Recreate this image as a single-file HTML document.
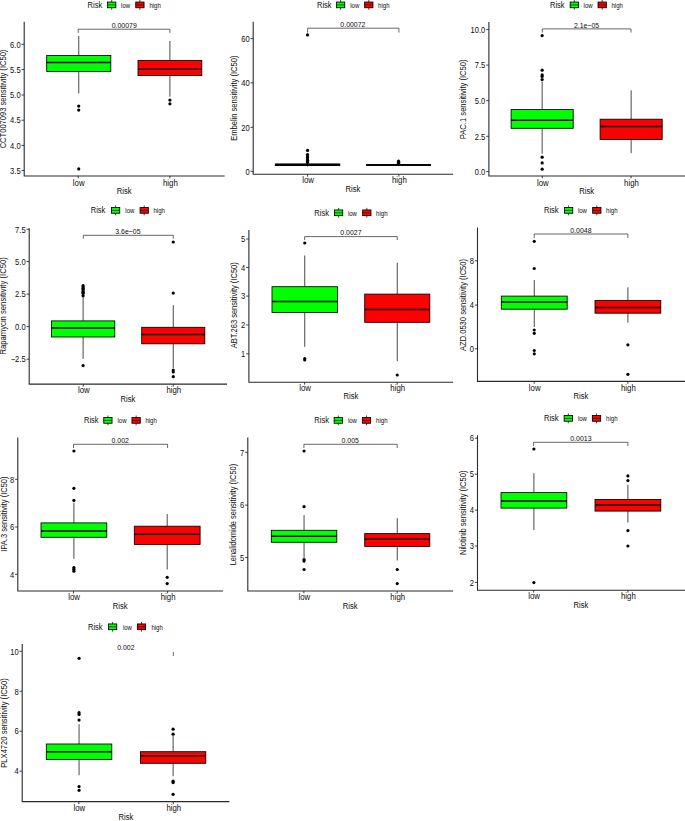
<!DOCTYPE html>
<html lang="en"><head><meta charset="utf-8"><title>Drug sensitivity box plots</title>
<style>
html,body{margin:0;padding:0;background:#fff}
svg{display:block}
text{font-family:"Liberation Sans", Arial, sans-serif;fill:#0d0d0d}
.w{stroke:#1a1a1a;stroke-width:.8;fill:none}
.b{stroke:#000;stroke-width:.85}
.m{stroke:#000;stroke-width:1.5}
.km{stroke:#000;stroke-width:.6}
.o{fill:#000}
.ax{stroke:#2a2a2a;stroke-width:1.1;fill:none}
.tk{stroke:#222;stroke-width:.85}
.br{stroke:#262626;stroke-width:.7;fill:none}
</style></head><body>
<svg width="685" height="821" viewBox="0 0 685 821">
<rect width="685" height="821" fill="#fff"/>
<g>
<text transform="translate(87.6 7.75) scale(0.875 1)" font-size="8.6">Risk</text>
<line x1="111.7" y1="0" x2="111.7" y2="9.8" class="w"/>
<rect x="107.55" y="2.05" width="8.3" height="5.7" fill="#00ff00" class="b"/>
<line x1="107.55" y1="4.9" x2="115.85" y2="4.9" class="km" stroke-width="0.6"/>
<text transform="translate(121.1 7.6) scale(0.89 1)" font-size="6.8">low</text>
<line x1="139.9" y1="0" x2="139.9" y2="9.8" class="w"/>
<rect x="135.75" y="2.05" width="8.3" height="5.7" fill="#ff0000" class="b"/>
<line x1="135.75" y1="4.9" x2="144.05" y2="4.9" class="km" stroke-width="0.6"/>
<text transform="translate(149.4 7.6) scale(0.89 1)" font-size="6.8">high</text>
<line x1="78.75" y1="35.9" x2="78.75" y2="55.4" class="w" stroke-width="0.7"/>
<line x1="78.75" y1="71.5" x2="78.75" y2="93.4" class="w" stroke-width="0.7"/>
<rect x="46.7" y="55.4" width="64.1" height="16.1" fill="#00ff00" class="b" stroke-width="0.85"/>
<line x1="46.7" y1="62.5" x2="110.8" y2="62.5" class="m"/>
<circle cx="78.75" cy="106.1" r="1.6" class="o"/>
<circle cx="78.75" cy="110.1" r="1.6" class="o"/>
<circle cx="78.75" cy="168.9" r="1.6" class="o"/>
<line x1="169.9" y1="41" x2="169.9" y2="60.4" class="w" stroke-width="1.2"/>
<line x1="169.9" y1="75.6" x2="169.9" y2="96.7" class="w" stroke-width="1.2"/>
<rect x="138" y="60.4" width="63.8" height="15.2" fill="#ff0000" class="b" stroke-width="0.85"/>
<line x1="138" y1="69.2" x2="201.8" y2="69.2" class="m"/>
<circle cx="169.9" cy="100.1" r="1.6" class="o"/>
<circle cx="169.9" cy="103.8" r="1.6" class="o"/>
<path d="M24.2 21.8V175.95H224.7" class="ax"/>
<line x1="21.5" y1="44.3" x2="24.2" y2="44.3" class="tk"/>
<text transform="translate(20.6 47.5) scale(0.86 1)" font-size="8.8" text-anchor="end">6.0</text>
<line x1="21.5" y1="69.5" x2="24.2" y2="69.5" class="tk"/>
<text transform="translate(20.6 72.7) scale(0.86 1)" font-size="8.8" text-anchor="end">5.5</text>
<line x1="21.5" y1="95" x2="24.2" y2="95" class="tk"/>
<text transform="translate(20.6 98.2) scale(0.86 1)" font-size="8.8" text-anchor="end">5.0</text>
<line x1="21.5" y1="120.2" x2="24.2" y2="120.2" class="tk"/>
<text transform="translate(20.6 123.4) scale(0.86 1)" font-size="8.8" text-anchor="end">4.5</text>
<line x1="21.5" y1="145.4" x2="24.2" y2="145.4" class="tk"/>
<text transform="translate(20.6 148.6) scale(0.86 1)" font-size="8.8" text-anchor="end">4.0</text>
<line x1="21.5" y1="170.6" x2="24.2" y2="170.6" class="tk"/>
<text transform="translate(20.6 173.8) scale(0.86 1)" font-size="8.8" text-anchor="end">3.5</text>
<line x1="78.2" y1="175.95" x2="78.2" y2="178.35" class="tk"/>
<text transform="translate(78.7 185.7) scale(0.93 1)" font-size="8.4" text-anchor="middle">low</text>
<line x1="169.9" y1="175.95" x2="169.9" y2="178.35" class="tk"/>
<text transform="translate(170.4 185.7) scale(0.93 1)" font-size="8.4" text-anchor="middle">high</text>
<text transform="translate(124.2 194.2) scale(0.85 1)" font-size="9.0" text-anchor="middle">Risk</text>
<text transform="translate(6.4 99) rotate(-90) scale(0.924 1)" font-size="8.2" text-anchor="middle">CCT007093 sensitivity (IC50)</text>
<path d="M78.2 32.9V29.2H169.9V32.9" class="br"/>
<text transform="translate(124.2 28.05) scale(0.89 1)" font-size="7.8" text-anchor="middle">0.00079</text>
</g>
<g>
<text transform="translate(317 7.75) scale(0.875 1)" font-size="8.6">Risk</text>
<line x1="340.6" y1="0" x2="340.6" y2="9.8" class="w"/>
<rect x="336.45" y="2.05" width="8.3" height="5.7" fill="#00ff00" class="b"/>
<line x1="336.45" y1="4.9" x2="344.75" y2="4.9" class="km" stroke-width="0.6"/>
<text transform="translate(350.2 7.6) scale(0.89 1)" font-size="6.8">low</text>
<line x1="368.8" y1="0" x2="368.8" y2="9.8" class="w"/>
<rect x="364.65" y="2.05" width="8.3" height="5.7" fill="#ff0000" class="b"/>
<line x1="364.65" y1="4.9" x2="372.95" y2="4.9" class="km" stroke-width="0.6"/>
<text transform="translate(378.1 7.6) scale(0.89 1)" font-size="6.8">high</text>
<line x1="307.55" y1="163" x2="307.55" y2="163.9" class="w" stroke-width="0.8"/>
<line x1="307.55" y1="165.6" x2="307.55" y2="166.5" class="w" stroke-width="0.8"/>
<rect x="275.3" y="163.9" width="64.5" height="1.7" fill="#000" class="b" stroke-width="0.85"/>
<line x1="275.3" y1="164.7" x2="339.8" y2="164.7" class="m"/>
<circle cx="307.55" cy="34.9" r="1.6" class="o"/>
<circle cx="307.55" cy="150.4" r="1.6" class="o"/>
<circle cx="307.55" cy="154.5" r="1.6" class="o"/>
<circle cx="307.55" cy="156" r="1.6" class="o"/>
<circle cx="307.55" cy="157.5" r="1.6" class="o"/>
<circle cx="307.55" cy="159" r="1.6" class="o"/>
<circle cx="307.55" cy="160.3" r="1.6" class="o"/>
<circle cx="307.55" cy="161.5" r="1.6" class="o"/>
<circle cx="307.55" cy="162.5" r="1.6" class="o"/>
<line x1="398.55" y1="163.8" x2="398.55" y2="164.6" class="w" stroke-width="0.8"/>
<line x1="398.55" y1="165.4" x2="398.55" y2="166.2" class="w" stroke-width="0.8"/>
<rect x="366.5" y="164.6" width="64.1" height="0.8" fill="#000" class="b" stroke-width="0.85"/>
<line x1="366.5" y1="165" x2="430.6" y2="165" class="m"/>
<circle cx="398.55" cy="161.2" r="1.6" class="o"/>
<circle cx="398.55" cy="162.3" r="1.6" class="o"/>
<circle cx="398.55" cy="163.3" r="1.6" class="o"/>
<path d="M253.2 21.8V174.25H453.1" class="ax"/>
<line x1="250.5" y1="38.6" x2="253.2" y2="38.6" class="tk"/>
<text transform="translate(249.6 41.8) scale(0.86 1)" font-size="8.8" text-anchor="end">60</text>
<line x1="250.5" y1="82.9" x2="253.2" y2="82.9" class="tk"/>
<text transform="translate(249.6 86.1) scale(0.86 1)" font-size="8.8" text-anchor="end">40</text>
<line x1="250.5" y1="127.3" x2="253.2" y2="127.3" class="tk"/>
<text transform="translate(249.6 130.5) scale(0.86 1)" font-size="8.8" text-anchor="end">20</text>
<line x1="250.5" y1="171.3" x2="253.2" y2="171.3" class="tk"/>
<text transform="translate(249.6 174.5) scale(0.86 1)" font-size="8.8" text-anchor="end">0</text>
<line x1="307.6" y1="174.25" x2="307.6" y2="176.65" class="tk"/>
<text transform="translate(308.1 183.4) scale(0.93 1)" font-size="8.4" text-anchor="middle">low</text>
<line x1="398.9" y1="174.25" x2="398.9" y2="176.65" class="tk"/>
<text transform="translate(399.4 183.4) scale(0.93 1)" font-size="8.4" text-anchor="middle">high</text>
<text transform="translate(352.9 191.9) scale(0.85 1)" font-size="9.0" text-anchor="middle">Risk</text>
<text transform="translate(237.3 98.2) rotate(-90) scale(0.925 1)" font-size="8.2" text-anchor="middle">Embelin sensitivity (IC50)</text>
<path d="M307.6 32.6V28.2H398.9V32.6" class="br"/>
<text transform="translate(352.9 27.35) scale(0.89 1)" font-size="7.8" text-anchor="middle">0.00072</text>
</g>
<g>
<text transform="translate(550 7.75) scale(0.875 1)" font-size="8.6">Risk</text>
<line x1="574.3" y1="0" x2="574.3" y2="9.8" class="w"/>
<rect x="570.15" y="2.05" width="8.3" height="5.7" fill="#00ff00" class="b"/>
<line x1="570.15" y1="4.9" x2="578.45" y2="4.9" class="km" stroke-width="0.6"/>
<text transform="translate(583.6 7.6) scale(0.89 1)" font-size="6.8">low</text>
<line x1="602.2" y1="0" x2="602.2" y2="9.8" class="w"/>
<rect x="598.05" y="2.05" width="8.3" height="5.7" fill="#ff0000" class="b"/>
<line x1="598.05" y1="4.9" x2="606.35" y2="4.9" class="km" stroke-width="0.6"/>
<text transform="translate(611.5 7.6) scale(0.89 1)" font-size="6.8">high</text>
<line x1="542.15" y1="81.6" x2="542.15" y2="109.5" class="w" stroke-width="0.7"/>
<line x1="542.15" y1="128.3" x2="542.15" y2="153.8" class="w" stroke-width="0.7"/>
<rect x="511.1" y="109.5" width="62.1" height="18.8" fill="#00ff00" class="b" stroke-width="0.85"/>
<line x1="511.1" y1="120.2" x2="573.2" y2="120.2" class="m"/>
<circle cx="542.15" cy="35.6" r="1.6" class="o"/>
<circle cx="542.15" cy="70.2" r="1.6" class="o"/>
<circle cx="542.15" cy="74.9" r="1.6" class="o"/>
<circle cx="542.15" cy="76.4" r="1.6" class="o"/>
<circle cx="542.15" cy="79.6" r="1.6" class="o"/>
<circle cx="542.15" cy="157.2" r="1.6" class="o"/>
<circle cx="542.15" cy="162.9" r="1.6" class="o"/>
<circle cx="542.15" cy="169.2" r="1.6" class="o"/>
<line x1="631.15" y1="90.3" x2="631.15" y2="119.2" class="w" stroke-width="1.2"/>
<line x1="631.15" y1="139.4" x2="631.15" y2="153.1" class="w" stroke-width="1.2"/>
<rect x="600.1" y="119.2" width="62.1" height="20.2" fill="#ff0000" class="b" stroke-width="0.85"/>
<line x1="600.1" y1="126.6" x2="662.2" y2="126.6" class="m"/>
<path d="M488.9 22V175.95H685" class="ax"/>
<line x1="486.2" y1="29.5" x2="488.9" y2="29.5" class="tk"/>
<text transform="translate(485.3 32.7) scale(0.86 1)" font-size="8.8" text-anchor="end">10.0</text>
<line x1="486.2" y1="65.1" x2="488.9" y2="65.1" class="tk"/>
<text transform="translate(485.3 68.3) scale(0.86 1)" font-size="8.8" text-anchor="end">7.5</text>
<line x1="486.2" y1="100.7" x2="488.9" y2="100.7" class="tk"/>
<text transform="translate(485.3 103.9) scale(0.86 1)" font-size="8.8" text-anchor="end">5.0</text>
<line x1="486.2" y1="136.3" x2="488.9" y2="136.3" class="tk"/>
<text transform="translate(485.3 139.5) scale(0.86 1)" font-size="8.8" text-anchor="end">2.5</text>
<line x1="486.2" y1="171.6" x2="488.9" y2="171.6" class="tk"/>
<text transform="translate(485.3 174.8) scale(0.86 1)" font-size="8.8" text-anchor="end">0.0</text>
<line x1="542.3" y1="175.95" x2="542.3" y2="178.35" class="tk"/>
<text transform="translate(542.8 185.7) scale(0.93 1)" font-size="8.4" text-anchor="middle">low</text>
<line x1="631" y1="175.95" x2="631" y2="178.35" class="tk"/>
<text transform="translate(631.5 185.7) scale(0.93 1)" font-size="8.4" text-anchor="middle">high</text>
<text transform="translate(586.6 194.2) scale(0.85 1)" font-size="9.0" text-anchor="middle">Risk</text>
<text transform="translate(466.2 99.3) rotate(-90) scale(0.931 1)" font-size="8.2" text-anchor="middle">PAC.1 sensitivity (IC50)</text>
<path d="M542.3 32.6V28.9H631V32.6" class="br"/>
<text transform="translate(586.6 28.05) scale(0.89 1)" font-size="7.8" text-anchor="middle">2.1e−05</text>
</g>
<g>
<text transform="translate(90.7 213.25) scale(0.875 1)" font-size="8.6">Risk</text>
<line x1="115.6" y1="205.5" x2="115.6" y2="215.3" class="w"/>
<rect x="111.45" y="207.55" width="8.3" height="5.7" fill="#00ff00" class="b"/>
<line x1="111.45" y1="210.4" x2="119.75" y2="210.4" class="km" stroke-width="0.9"/>
<text transform="translate(125.3 213.1) scale(0.89 1)" font-size="6.8">low</text>
<line x1="144.2" y1="205.5" x2="144.2" y2="215.3" class="w"/>
<rect x="140.05" y="207.55" width="8.3" height="5.7" fill="#ff0000" class="b"/>
<line x1="140.05" y1="210.4" x2="148.35" y2="210.4" class="km" stroke-width="0.9"/>
<text transform="translate(153.5 213.1) scale(0.89 1)" font-size="6.8">high</text>
<line x1="83.1" y1="295.7" x2="83.1" y2="320.9" class="w" stroke-width="1.0"/>
<line x1="83.1" y1="337" x2="83.1" y2="358.9" class="w" stroke-width="1.0"/>
<rect x="51.4" y="320.9" width="63.4" height="16.1" fill="#00ff00" class="b" stroke-width="0.85"/>
<line x1="51.4" y1="328" x2="114.8" y2="328" class="m"/>
<circle cx="83.1" cy="285.7" r="1.6" class="o"/>
<circle cx="83.1" cy="287" r="1.6" class="o"/>
<circle cx="83.1" cy="288.3" r="1.6" class="o"/>
<circle cx="83.1" cy="289.6" r="1.6" class="o"/>
<circle cx="83.1" cy="290.9" r="1.6" class="o"/>
<circle cx="83.1" cy="292.2" r="1.6" class="o"/>
<circle cx="83.1" cy="293.3" r="1.6" class="o"/>
<circle cx="83.1" cy="295.7" r="1.6" class="o"/>
<circle cx="83.1" cy="365.6" r="1.6" class="o"/>
<line x1="173.25" y1="305.1" x2="173.25" y2="327.3" class="w" stroke-width="0.8"/>
<line x1="173.25" y1="343.8" x2="173.25" y2="367.9" class="w" stroke-width="0.8"/>
<rect x="141.7" y="327.3" width="63.1" height="16.5" fill="#ff0000" class="b" stroke-width="0.85"/>
<line x1="141.7" y1="334.4" x2="204.8" y2="334.4" class="m"/>
<circle cx="173.25" cy="242" r="1.6" class="o"/>
<circle cx="173.25" cy="293.1" r="1.6" class="o"/>
<circle cx="173.25" cy="370" r="1.6" class="o"/>
<circle cx="173.25" cy="372" r="1.6" class="o"/>
<circle cx="173.25" cy="376.7" r="1.6" class="o"/>
<path d="M29.2 228.2V384.15H227" class="ax"/>
<line x1="26.5" y1="229.3" x2="29.2" y2="229.3" class="tk"/>
<text transform="translate(25.6 232.5) scale(0.86 1)" font-size="8.8" text-anchor="end">7.5</text>
<line x1="26.5" y1="261.5" x2="29.2" y2="261.5" class="tk"/>
<text transform="translate(25.6 264.7) scale(0.86 1)" font-size="8.8" text-anchor="end">5.0</text>
<line x1="26.5" y1="294.1" x2="29.2" y2="294.1" class="tk"/>
<text transform="translate(25.6 297.3) scale(0.86 1)" font-size="8.8" text-anchor="end">2.5</text>
<line x1="26.5" y1="326.6" x2="29.2" y2="326.6" class="tk"/>
<text transform="translate(25.6 329.8) scale(0.86 1)" font-size="8.8" text-anchor="end">0.0</text>
<line x1="26.5" y1="359.2" x2="29.2" y2="359.2" class="tk"/>
<text transform="translate(25.6 362.4) scale(0.86 1)" font-size="8.8" text-anchor="end">−2.5</text>
<line x1="83.3" y1="384.15" x2="83.3" y2="386.55" class="tk"/>
<text transform="translate(83.8 393.1) scale(0.93 1)" font-size="8.4" text-anchor="middle">low</text>
<line x1="173.3" y1="384.15" x2="173.3" y2="386.55" class="tk"/>
<text transform="translate(173.8 393.1) scale(0.93 1)" font-size="8.4" text-anchor="middle">high</text>
<text transform="translate(127.9 401.7) scale(0.85 1)" font-size="9.0" text-anchor="middle">Risk</text>
<text transform="translate(6.3 305.9) rotate(-90) scale(0.939 1)" font-size="8.2" text-anchor="middle">Rapamycin sensitivity (IC50)</text>
<path d="M83.3 238.7V235.3H173.3V238.7" class="br"/>
<text transform="translate(127.9 233.75) scale(0.89 1)" font-size="7.8" text-anchor="middle">3.6e−05</text>
</g>
<g>
<text transform="translate(314.3 215.65) scale(0.875 1)" font-size="8.6">Risk</text>
<line x1="338.6" y1="207.9" x2="338.6" y2="217.7" class="w"/>
<rect x="334.45" y="209.95" width="8.3" height="5.7" fill="#00ff00" class="b"/>
<line x1="334.45" y1="212.8" x2="342.75" y2="212.8" class="km" stroke-width="0.6"/>
<text transform="translate(347.9 215.5) scale(0.89 1)" font-size="6.8">low</text>
<line x1="366.8" y1="207.9" x2="366.8" y2="217.7" class="w"/>
<rect x="362.65" y="209.95" width="8.3" height="5.7" fill="#ff0000" class="b"/>
<line x1="362.65" y1="212.8" x2="370.95" y2="212.8" class="km" stroke-width="0.6"/>
<text transform="translate(376.1 215.5) scale(0.89 1)" font-size="6.8">high</text>
<line x1="304.75" y1="255.4" x2="304.75" y2="286.7" class="w" stroke-width="0.7"/>
<line x1="304.75" y1="312.5" x2="304.75" y2="346.8" class="w" stroke-width="0.7"/>
<rect x="272" y="286.7" width="65.5" height="25.8" fill="#00ff00" class="b" stroke-width="0.85"/>
<line x1="272" y1="301.4" x2="337.5" y2="301.4" class="m"/>
<circle cx="304.75" cy="243" r="1.6" class="o"/>
<circle cx="304.75" cy="358.5" r="1.6" class="o"/>
<circle cx="304.75" cy="360" r="1.6" class="o"/>
<line x1="397.25" y1="262.8" x2="397.25" y2="294.1" class="w" stroke-width="1.2"/>
<line x1="397.25" y1="322.3" x2="397.25" y2="361.2" class="w" stroke-width="1.2"/>
<rect x="364.7" y="294.1" width="65.1" height="28.2" fill="#ff0000" class="b" stroke-width="0.85"/>
<line x1="364.7" y1="309.5" x2="429.8" y2="309.5" class="m"/>
<circle cx="397.25" cy="375" r="1.6" class="o"/>
<path d="M248.9 229.9V382.25H453.1" class="ax"/>
<line x1="246.2" y1="239" x2="248.9" y2="239" class="tk"/>
<text transform="translate(245.3 242.2) scale(0.86 1)" font-size="8.8" text-anchor="end">5</text>
<line x1="246.2" y1="267.5" x2="248.9" y2="267.5" class="tk"/>
<text transform="translate(245.3 270.7) scale(0.86 1)" font-size="8.8" text-anchor="end">4</text>
<line x1="246.2" y1="296.1" x2="248.9" y2="296.1" class="tk"/>
<text transform="translate(245.3 299.3) scale(0.86 1)" font-size="8.8" text-anchor="end">3</text>
<line x1="246.2" y1="325" x2="248.9" y2="325" class="tk"/>
<text transform="translate(245.3 328.2) scale(0.86 1)" font-size="8.8" text-anchor="end">2</text>
<line x1="246.2" y1="353.8" x2="248.9" y2="353.8" class="tk"/>
<text transform="translate(245.3 357) scale(0.86 1)" font-size="8.8" text-anchor="end">1</text>
<line x1="304.6" y1="382.25" x2="304.6" y2="384.65" class="tk"/>
<text transform="translate(305.1 390.8) scale(0.93 1)" font-size="8.4" text-anchor="middle">low</text>
<line x1="397.2" y1="382.25" x2="397.2" y2="384.65" class="tk"/>
<text transform="translate(397.7 390.8) scale(0.93 1)" font-size="8.4" text-anchor="middle">high</text>
<text transform="translate(350.9 399.3) scale(0.85 1)" font-size="9.0" text-anchor="middle">Risk</text>
<text transform="translate(237.3 305.3) rotate(-90) scale(0.919 1)" font-size="8.2" text-anchor="middle">ABT.263 sensitivity (IC50)</text>
<path d="M304.6 240V236.6H397.2V240" class="br"/>
<text transform="translate(350.9 235.45) scale(0.89 1)" font-size="7.8" text-anchor="middle">0.0027</text>
</g>
<g>
<text transform="translate(544 213.25) scale(0.875 1)" font-size="8.6">Risk</text>
<line x1="568.6" y1="205.5" x2="568.6" y2="215.3" class="w"/>
<rect x="564.45" y="207.55" width="8.3" height="5.7" fill="#00ff00" class="b"/>
<line x1="564.45" y1="210.4" x2="572.75" y2="210.4" class="km" stroke-width="0.7"/>
<text transform="translate(577.9 213.1) scale(0.89 1)" font-size="6.8">low</text>
<line x1="596.8" y1="205.5" x2="596.8" y2="215.3" class="w"/>
<rect x="592.65" y="207.55" width="8.3" height="5.7" fill="#ff0000" class="b"/>
<line x1="592.65" y1="210.4" x2="600.95" y2="210.4" class="km" stroke-width="0.7"/>
<text transform="translate(606.1 213.1) scale(0.89 1)" font-size="6.8">high</text>
<line x1="534.25" y1="280" x2="534.25" y2="296.1" class="w" stroke-width="1.1"/>
<line x1="534.25" y1="309.2" x2="534.25" y2="327" class="w" stroke-width="1.1"/>
<rect x="501.3" y="296.1" width="65.9" height="13.1" fill="#00ff00" class="b" stroke-width="0.85"/>
<line x1="501.3" y1="302.1" x2="567.2" y2="302.1" class="m"/>
<circle cx="534.25" cy="241.3" r="1.6" class="o"/>
<circle cx="534.25" cy="268.5" r="1.6" class="o"/>
<circle cx="534.25" cy="330" r="1.6" class="o"/>
<circle cx="534.25" cy="333.3" r="1.6" class="o"/>
<circle cx="534.25" cy="350.5" r="1.6" class="o"/>
<circle cx="534.25" cy="353.8" r="1.6" class="o"/>
<line x1="627.9" y1="287.3" x2="627.9" y2="300.4" class="w" stroke-width="1.1"/>
<line x1="627.9" y1="313.2" x2="627.9" y2="322.6" class="w" stroke-width="1.1"/>
<rect x="595" y="300.4" width="65.8" height="12.8" fill="#ff0000" class="b" stroke-width="0.85"/>
<line x1="595" y1="307.5" x2="660.8" y2="307.5" class="m"/>
<circle cx="627.9" cy="344.8" r="1.6" class="o"/>
<circle cx="627.9" cy="374.3" r="1.6" class="o"/>
<path d="M477.5 227.6V381.35H685" class="ax"/>
<line x1="474.8" y1="260.8" x2="477.5" y2="260.8" class="tk"/>
<text transform="translate(473.9 264) scale(0.86 1)" font-size="8.8" text-anchor="end">8</text>
<line x1="474.8" y1="305.1" x2="477.5" y2="305.1" class="tk"/>
<text transform="translate(473.9 308.3) scale(0.86 1)" font-size="8.8" text-anchor="end">4</text>
<line x1="474.8" y1="348.8" x2="477.5" y2="348.8" class="tk"/>
<text transform="translate(473.9 352) scale(0.86 1)" font-size="8.8" text-anchor="end">0</text>
<line x1="534.2" y1="381.35" x2="534.2" y2="383.75" class="tk"/>
<text transform="translate(534.7 390.8) scale(0.93 1)" font-size="8.4" text-anchor="middle">low</text>
<line x1="627.9" y1="381.35" x2="627.9" y2="383.75" class="tk"/>
<text transform="translate(628.4 390.8) scale(0.93 1)" font-size="8.4" text-anchor="middle">high</text>
<text transform="translate(580.9 399.3) scale(0.85 1)" font-size="9.0" text-anchor="middle">Risk</text>
<text transform="translate(466.3 305) rotate(-90) scale(0.925 1)" font-size="8.2" text-anchor="middle">AZD.0530 sensitivity (IC50)</text>
<path d="M534.2 238V234H627.9V238" class="br"/>
<text transform="translate(580.9 233.15) scale(0.89 1)" font-size="7.8" text-anchor="middle">0.0048</text>
</g>
<g>
<text transform="translate(84 423.25) scale(0.875 1)" font-size="8.6">Risk</text>
<line x1="107.9" y1="415.5" x2="107.9" y2="425.3" class="w"/>
<rect x="103.75" y="417.55" width="8.3" height="5.7" fill="#00ff00" class="b"/>
<line x1="103.75" y1="420.4" x2="112.05" y2="420.4" class="km" stroke-width="0.9"/>
<text transform="translate(117.5 423.1) scale(0.89 1)" font-size="6.8">low</text>
<line x1="136.1" y1="415.5" x2="136.1" y2="425.3" class="w"/>
<rect x="131.95" y="417.55" width="8.3" height="5.7" fill="#ff0000" class="b"/>
<line x1="131.95" y1="420.4" x2="140.25" y2="420.4" class="km" stroke-width="0.9"/>
<text transform="translate(145.4 423.1) scale(0.89 1)" font-size="6.8">high</text>
<line x1="73.9" y1="502.7" x2="73.9" y2="522.9" class="w" stroke-width="1.0"/>
<line x1="73.9" y1="537.3" x2="73.9" y2="558.8" class="w" stroke-width="1.0"/>
<rect x="41" y="522.9" width="65.8" height="14.4" fill="#00ff00" class="b" stroke-width="0.85"/>
<line x1="41" y1="530.9" x2="106.8" y2="530.9" class="m"/>
<circle cx="73.9" cy="451" r="1.6" class="o"/>
<circle cx="73.9" cy="488.3" r="1.6" class="o"/>
<circle cx="73.9" cy="500.4" r="1.6" class="o"/>
<circle cx="73.9" cy="567.5" r="1.6" class="o"/>
<circle cx="73.9" cy="569.2" r="1.6" class="o"/>
<circle cx="73.9" cy="571.2" r="1.6" class="o"/>
<line x1="167.2" y1="514.1" x2="167.2" y2="526.2" class="w" stroke-width="0.9"/>
<line x1="167.2" y1="544.4" x2="167.2" y2="569.5" class="w" stroke-width="0.9"/>
<rect x="134.3" y="526.2" width="65.8" height="18.2" fill="#ff0000" class="b" stroke-width="0.85"/>
<line x1="134.3" y1="534.3" x2="200.1" y2="534.3" class="m"/>
<circle cx="167.2" cy="577.3" r="1.6" class="o"/>
<circle cx="167.2" cy="583.6" r="1.6" class="o"/>
<path d="M17.8 437.6V590.95H223.1" class="ax"/>
<line x1="15.1" y1="479.3" x2="17.8" y2="479.3" class="tk"/>
<text transform="translate(14.2 482.5) scale(0.86 1)" font-size="8.8" text-anchor="end">8</text>
<line x1="15.1" y1="527" x2="17.8" y2="527" class="tk"/>
<text transform="translate(14.2 530.2) scale(0.86 1)" font-size="8.8" text-anchor="end">6</text>
<line x1="15.1" y1="574.3" x2="17.8" y2="574.3" class="tk"/>
<text transform="translate(14.2 577.5) scale(0.86 1)" font-size="8.8" text-anchor="end">4</text>
<line x1="73.5" y1="590.95" x2="73.5" y2="593.35" class="tk"/>
<text transform="translate(74 600.1) scale(0.93 1)" font-size="8.4" text-anchor="middle">low</text>
<line x1="167.6" y1="590.95" x2="167.6" y2="593.35" class="tk"/>
<text transform="translate(168.1 600.1) scale(0.93 1)" font-size="8.4" text-anchor="middle">high</text>
<text transform="translate(120.2 608.6) scale(0.85 1)" font-size="9.0" text-anchor="middle">Risk</text>
<text transform="translate(6.6 514.1) rotate(-90) scale(0.913 1)" font-size="8.2" text-anchor="middle">IPA.3 sensitivity (IC50)</text>
<path d="M73.5 448V444.3H167.6V448" class="br"/>
<text transform="translate(120.2 443.15) scale(0.89 1)" font-size="7.8" text-anchor="middle">0.002</text>
</g>
<g>
<text transform="translate(314.3 423.25) scale(0.875 1)" font-size="8.6">Risk</text>
<line x1="338.3" y1="415.5" x2="338.3" y2="425.3" class="w"/>
<rect x="334.15" y="417.55" width="8.3" height="5.7" fill="#00ff00" class="b"/>
<line x1="334.15" y1="420.4" x2="342.45" y2="420.4" class="km" stroke-width="0.7"/>
<text transform="translate(347.9 423.1) scale(0.89 1)" font-size="6.8">low</text>
<line x1="366.5" y1="415.5" x2="366.5" y2="425.3" class="w"/>
<rect x="362.35" y="417.55" width="8.3" height="5.7" fill="#ff0000" class="b"/>
<line x1="362.35" y1="420.4" x2="370.65" y2="420.4" class="km" stroke-width="0.7"/>
<text transform="translate(376.1 423.1) scale(0.89 1)" font-size="6.8">high</text>
<line x1="304.05" y1="515.1" x2="304.05" y2="530.3" class="w" stroke-width="0.9"/>
<line x1="304.05" y1="542.3" x2="304.05" y2="557.8" class="w" stroke-width="0.9"/>
<rect x="271.3" y="530.3" width="65.5" height="12" fill="#00ff00" class="b" stroke-width="0.85"/>
<line x1="271.3" y1="536.3" x2="336.8" y2="536.3" class="m"/>
<circle cx="304.05" cy="451" r="1.6" class="o"/>
<circle cx="304.05" cy="506.7" r="1.6" class="o"/>
<circle cx="304.05" cy="559.5" r="1.6" class="o"/>
<circle cx="304.05" cy="561.1" r="1.6" class="o"/>
<circle cx="304.05" cy="569.5" r="1.6" class="o"/>
<line x1="397.25" y1="518.2" x2="397.25" y2="533.6" class="w" stroke-width="0.8"/>
<line x1="397.25" y1="546.4" x2="397.25" y2="560.5" class="w" stroke-width="0.8"/>
<rect x="364.7" y="533.6" width="65.1" height="12.8" fill="#ff0000" class="b" stroke-width="0.85"/>
<line x1="364.7" y1="539.3" x2="429.8" y2="539.3" class="m"/>
<circle cx="397.25" cy="569.5" r="1.6" class="o"/>
<circle cx="397.25" cy="583.6" r="1.6" class="o"/>
<path d="M247.8 437.6V590.95H453.1" class="ax"/>
<line x1="245.1" y1="452.3" x2="247.8" y2="452.3" class="tk"/>
<text transform="translate(244.2 455.5) scale(0.86 1)" font-size="8.8" text-anchor="end">7</text>
<line x1="245.1" y1="505.1" x2="247.8" y2="505.1" class="tk"/>
<text transform="translate(244.2 508.3) scale(0.86 1)" font-size="8.8" text-anchor="end">6</text>
<line x1="245.1" y1="557.5" x2="247.8" y2="557.5" class="tk"/>
<text transform="translate(244.2 560.7) scale(0.86 1)" font-size="8.8" text-anchor="end">5</text>
<line x1="303.9" y1="590.95" x2="303.9" y2="593.35" class="tk"/>
<text transform="translate(304.4 600.1) scale(0.93 1)" font-size="8.4" text-anchor="middle">low</text>
<line x1="397.2" y1="590.95" x2="397.2" y2="593.35" class="tk"/>
<text transform="translate(397.7 600.1) scale(0.93 1)" font-size="8.4" text-anchor="middle">high</text>
<text transform="translate(350.2 608.6) scale(0.85 1)" font-size="9.0" text-anchor="middle">Risk</text>
<text transform="translate(236 514.6) rotate(-90) scale(0.911 1)" font-size="8.2" text-anchor="middle">Lenalidomide sensitivity (IC50)</text>
<path d="M303.9 448V444.3H397.2V448" class="br"/>
<text transform="translate(350.2 443.15) scale(0.89 1)" font-size="7.8" text-anchor="middle">0.005</text>
</g>
<g>
<text transform="translate(544 421.25) scale(0.875 1)" font-size="8.6">Risk</text>
<line x1="568.3" y1="413.5" x2="568.3" y2="423.3" class="w"/>
<rect x="564.15" y="415.55" width="8.3" height="5.7" fill="#00ff00" class="b"/>
<line x1="564.15" y1="418.4" x2="572.45" y2="418.4" class="km" stroke-width="0.7"/>
<text transform="translate(577.9 421.1) scale(0.89 1)" font-size="6.8">low</text>
<line x1="596.5" y1="413.5" x2="596.5" y2="423.3" class="w"/>
<rect x="592.35" y="415.55" width="8.3" height="5.7" fill="#ff0000" class="b"/>
<line x1="592.35" y1="418.4" x2="600.65" y2="418.4" class="km" stroke-width="0.7"/>
<text transform="translate(606.1 421.1) scale(0.89 1)" font-size="6.8">high</text>
<line x1="533.9" y1="473.2" x2="533.9" y2="492.6" class="w" stroke-width="1.1"/>
<line x1="533.9" y1="508.1" x2="533.9" y2="529.9" class="w" stroke-width="1.1"/>
<rect x="501" y="492.6" width="65.8" height="15.5" fill="#00ff00" class="b" stroke-width="0.85"/>
<line x1="501" y1="501" x2="566.8" y2="501" class="m"/>
<circle cx="533.9" cy="449" r="1.6" class="o"/>
<circle cx="533.9" cy="582.6" r="1.6" class="o"/>
<line x1="627.9" y1="484.6" x2="627.9" y2="499.4" class="w" stroke-width="1.0"/>
<line x1="627.9" y1="511.1" x2="627.9" y2="522.5" class="w" stroke-width="1.0"/>
<rect x="595" y="499.4" width="65.8" height="11.7" fill="#ff0000" class="b" stroke-width="0.85"/>
<line x1="595" y1="505.1" x2="660.8" y2="505.1" class="m"/>
<circle cx="627.9" cy="475.9" r="1.6" class="o"/>
<circle cx="627.9" cy="480.6" r="1.6" class="o"/>
<circle cx="627.9" cy="530.6" r="1.6" class="o"/>
<circle cx="627.9" cy="546" r="1.6" class="o"/>
<path d="M477.5 435.2V590.25H685" class="ax"/>
<line x1="474.8" y1="438.2" x2="477.5" y2="438.2" class="tk"/>
<text transform="translate(473.9 441.4) scale(0.86 1)" font-size="8.8" text-anchor="end">6</text>
<line x1="474.8" y1="474.2" x2="477.5" y2="474.2" class="tk"/>
<text transform="translate(473.9 477.4) scale(0.86 1)" font-size="8.8" text-anchor="end">5</text>
<line x1="474.8" y1="510.1" x2="477.5" y2="510.1" class="tk"/>
<text transform="translate(473.9 513.3) scale(0.86 1)" font-size="8.8" text-anchor="end">4</text>
<line x1="474.8" y1="546" x2="477.5" y2="546" class="tk"/>
<text transform="translate(473.9 549.2) scale(0.86 1)" font-size="8.8" text-anchor="end">3</text>
<line x1="474.8" y1="582.4" x2="477.5" y2="582.4" class="tk"/>
<text transform="translate(473.9 585.6) scale(0.86 1)" font-size="8.8" text-anchor="end">2</text>
<line x1="533.6" y1="590.25" x2="533.6" y2="592.65" class="tk"/>
<text transform="translate(534.1 599.1) scale(0.93 1)" font-size="8.4" text-anchor="middle">low</text>
<line x1="627.9" y1="590.25" x2="627.9" y2="592.65" class="tk"/>
<text transform="translate(628.4 599.1) scale(0.93 1)" font-size="8.4" text-anchor="middle">high</text>
<text transform="translate(580.9 607.6) scale(0.85 1)" font-size="9.0" text-anchor="middle">Risk</text>
<text transform="translate(465.6 512.8) rotate(-90) scale(0.919 1)" font-size="8.2" text-anchor="middle">Nilotinib sensitivity (IC50)</text>
<path d="M533.6 446V442.3H627.9V446" class="br"/>
<text transform="translate(580.9 441.05) scale(0.89 1)" font-size="7.8" text-anchor="middle">0.0013</text>
</g>
<g>
<text transform="translate(88 629.65) scale(0.875 1)" font-size="8.6">Risk</text>
<line x1="112.6" y1="621.9" x2="112.6" y2="631.7" class="w"/>
<rect x="108.45" y="623.95" width="8.3" height="5.7" fill="#00ff00" class="b"/>
<line x1="108.45" y1="626.8" x2="116.75" y2="626.8" class="km" stroke-width="1.2"/>
<text transform="translate(122.9 629.5) scale(0.89 1)" font-size="6.8">low</text>
<line x1="141.5" y1="621.9" x2="141.5" y2="631.7" class="w"/>
<rect x="137.35" y="623.95" width="8.3" height="5.7" fill="#ff0000" class="b"/>
<line x1="137.35" y1="626.8" x2="145.65" y2="626.8" class="km" stroke-width="1.2"/>
<text transform="translate(151.4 629.5) scale(0.89 1)" font-size="6.8">high</text>
<line x1="79.05" y1="724.2" x2="79.05" y2="744" class="w" stroke-width="0.9"/>
<line x1="79.05" y1="759.4" x2="79.05" y2="775.2" class="w" stroke-width="0.9"/>
<rect x="46.3" y="744" width="65.5" height="15.4" fill="#00ff00" class="b" stroke-width="0.55"/>
<line x1="46.3" y1="751.7" x2="111.8" y2="751.7" class="m"/>
<circle cx="79.05" cy="658.3" r="1.6" class="o"/>
<circle cx="79.05" cy="712.7" r="1.6" class="o"/>
<circle cx="79.05" cy="714.4" r="1.6" class="o"/>
<circle cx="79.05" cy="720.1" r="1.6" class="o"/>
<circle cx="79.05" cy="786.6" r="1.6" class="o"/>
<circle cx="79.05" cy="790.3" r="1.6" class="o"/>
<line x1="173.1" y1="735.9" x2="173.1" y2="751.7" class="w" stroke-width="0.9"/>
<line x1="173.1" y1="763.3" x2="173.1" y2="776.2" class="w" stroke-width="0.9"/>
<rect x="140.4" y="751.7" width="65.4" height="11.6" fill="#ff0000" class="b" stroke-width="0.55"/>
<line x1="140.4" y1="755.8" x2="205.8" y2="755.8" class="m"/>
<circle cx="173.1" cy="729.2" r="1.6" class="o"/>
<circle cx="173.1" cy="734.2" r="1.6" class="o"/>
<circle cx="173.1" cy="781.2" r="1.6" class="o"/>
<circle cx="173.1" cy="782.6" r="1.6" class="o"/>
<circle cx="173.1" cy="794.3" r="1.6" class="o"/>
<path d="M22.2 643.9V801.65H229.4" class="ax"/>
<line x1="19.5" y1="651.3" x2="22.2" y2="651.3" class="tk"/>
<text transform="translate(18.6 654.5) scale(0.86 1)" font-size="8.8" text-anchor="end">10</text>
<line x1="19.5" y1="691.3" x2="22.2" y2="691.3" class="tk"/>
<text transform="translate(18.6 694.5) scale(0.86 1)" font-size="8.8" text-anchor="end">8</text>
<line x1="19.5" y1="731.2" x2="22.2" y2="731.2" class="tk"/>
<text transform="translate(18.6 734.4) scale(0.86 1)" font-size="8.8" text-anchor="end">6</text>
<line x1="19.5" y1="771.2" x2="22.2" y2="771.2" class="tk"/>
<text transform="translate(18.6 774.4) scale(0.86 1)" font-size="8.8" text-anchor="end">4</text>
<line x1="78.9" y1="801.65" x2="78.9" y2="804.05" class="tk"/>
<text transform="translate(79.4 810.8) scale(0.93 1)" font-size="8.4" text-anchor="middle">low</text>
<line x1="173.3" y1="801.65" x2="173.3" y2="804.05" class="tk"/>
<text transform="translate(173.8 810.8) scale(0.93 1)" font-size="8.4" text-anchor="middle">high</text>
<text transform="translate(125.9 819.7) scale(0.85 1)" font-size="9.0" text-anchor="middle">Risk</text>
<text transform="translate(6.6 723) rotate(-90) scale(0.927 1)" font-size="8.2" text-anchor="middle">PLX4720 sensitivity (IC50)</text>
<path d="M173.3 652V656.1" class="br" stroke="#555"/>
<text transform="translate(125.9 650.45) scale(0.89 1)" font-size="7.8" text-anchor="middle">0.002</text>
</g>
</svg>
</body></html>
